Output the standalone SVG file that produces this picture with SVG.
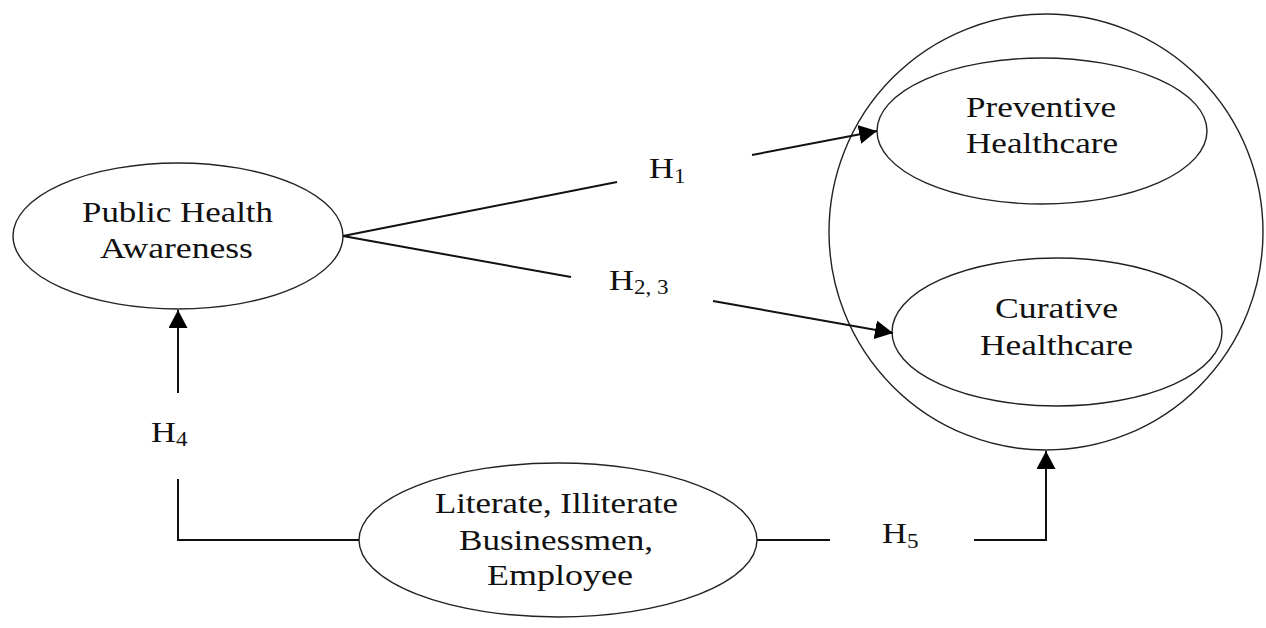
<svg xmlns="http://www.w3.org/2000/svg" width="1266" height="628" viewBox="0 0 1266 628">
<style>
.node{fill:none;stroke:#222;stroke-width:1.4}
.lbl{font-family:"Liberation Serif","Times New Roman",serif;font-size:30px;fill:#111;text-anchor:middle}
.h{font-family:"Liberation Serif","Times New Roman",serif;font-size:30px;fill:#111}
.sub{font-size:20px}
.conn{fill:none;stroke:#111;stroke-width:2}
</style>
<defs>
<marker id="arr" markerUnits="userSpaceOnUse" markerWidth="20" markerHeight="20" refX="18" refY="9.5" orient="auto">
<path d="M0,0 L18,9.5 L0,19 z" fill="#000"/>
</marker>
</defs>
<rect width="1266" height="628" fill="#fff"/>
<g id="outcome">
<ellipse class="node" cx="1046" cy="232" rx="217" ry="218"/>
</g>
<g id="pha">
<ellipse class="node" cx="178" cy="236" rx="165" ry="73"/>
<text class="lbl" x="177.5" y="222" textLength="191" lengthAdjust="spacingAndGlyphs">Public Health</text>
<text class="lbl" x="176.5" y="258" textLength="153" lengthAdjust="spacingAndGlyphs">Awareness</text>
</g>
<g id="preventive">
<ellipse class="node" cx="1042" cy="131" rx="165" ry="73"/>
<text class="lbl" x="1041" y="117" textLength="150" lengthAdjust="spacingAndGlyphs">Preventive</text>
<text class="lbl" x="1042" y="153" textLength="152" lengthAdjust="spacingAndGlyphs">Healthcare</text>
</g>
<g id="curative">
<ellipse class="node" cx="1057" cy="332" rx="165" ry="74"/>
<text class="lbl" x="1056.5" y="318" textLength="123" lengthAdjust="spacingAndGlyphs">Curative</text>
<text class="lbl" x="1056.5" y="355" textLength="153" lengthAdjust="spacingAndGlyphs">Healthcare</text>
</g>
<g id="demographics">
<ellipse class="node" cx="558" cy="540" rx="199" ry="77"/>
<text class="lbl" x="556.5" y="513" textLength="243" lengthAdjust="spacingAndGlyphs">Literate, Illiterate</text>
<text class="lbl" x="556" y="550" textLength="194" lengthAdjust="spacingAndGlyphs">Businessmen,</text>
<text class="lbl" x="560" y="585" textLength="146" lengthAdjust="spacingAndGlyphs">Employee</text>
</g>
<g id="connectors">
<line class="conn" x1="343" y1="236" x2="617" y2="182"/>
<line class="conn" x1="752" y1="155" x2="877" y2="131" marker-end="url(#arr)"/>
<line class="conn" x1="343" y1="236" x2="571" y2="277"/>
<line class="conn" x1="713" y1="301" x2="893" y2="333" marker-end="url(#arr)"/>
<polyline class="conn" points="359,540 178,540 178,479"/>
<line class="conn" x1="178" y1="393" x2="178" y2="310" marker-end="url(#arr)"/>
<line class="conn" x1="757" y1="540" x2="830" y2="540"/>
<polyline class="conn" points="974,540 1046,540 1046,451" marker-end="url(#arr)"/>
</g>
<g id="labels">
<text class="h" transform="translate(649,178) scale(1.15,1)">H<tspan class="sub" dy="5">1</tspan></text>
<text class="h" transform="translate(609,290) scale(1.15,1)">H<tspan class="sub" dy="4">2, 3</tspan></text>
<text class="h" transform="translate(151,442) scale(1.15,1)">H<tspan class="sub" dy="4">4</tspan></text>
<text class="h" transform="translate(882,543) scale(1.15,1)">H<tspan class="sub" dy="5">5</tspan></text>
</g>
</svg>
